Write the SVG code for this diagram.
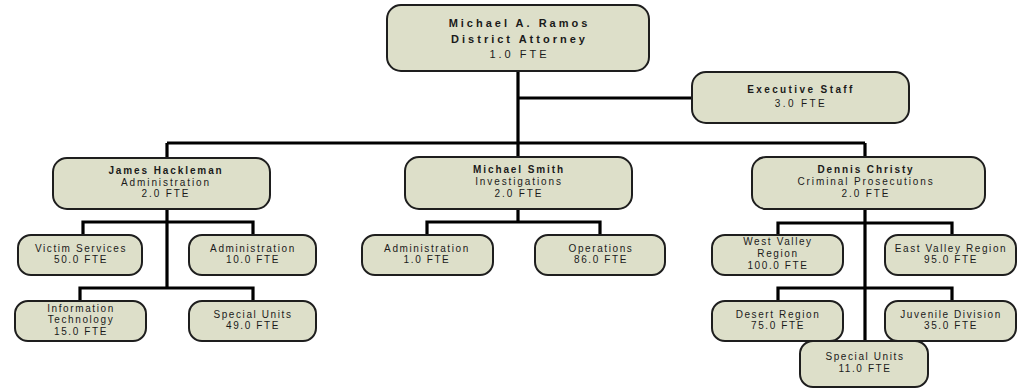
<svg xmlns="http://www.w3.org/2000/svg" width="1021" height="391" viewBox="0 0 1021 391">
<style>
.box{fill:#dddfc9;stroke:#1e1e1e;stroke-width:2}
.c{fill:none;stroke:#000;stroke-width:3.2;stroke-linecap:butt;stroke-linejoin:miter}
text{font-family:"Liberation Sans",Arial,sans-serif;fill:#1a1a1a;text-anchor:middle}
.t1{font-size:11px;letter-spacing:3px}
.t2{font-size:10px;letter-spacing:1.9px}
.te{font-size:10px;letter-spacing:2.4px}
.t3{font-size:10px;letter-spacing:1.6px}
.b{font-weight:bold}
</style>
<rect width="1021" height="391" fill="#fff"/>
<g id="connectors">
<path class="c" d="M518 71V143M518 98H692M167 143H865M167 143V158M518 143V157M865 143V157"/>
<path class="c" d="M167 209V288M83 235V222H253V235M80 301V288H253V301"/>
<path class="c" d="M518 209V222M427 235V222H600V235"/>
<path class="c" d="M865 209V341M778 235V223H952V235M778 301V288H952V301"/>
</g>
<g id="n-ramos"><rect class="box" x="387" y="5" width="262" height="66" rx="14"/>
<text class="t1 b" x="519.5" y="27">Michael A. Ramos</text>
<text class="t1 b" x="519.5" y="43">District Attorney</text>
<text class="t1" x="519.5" y="58">1.0 FTE</text></g>
<g id="n-exec"><rect class="box" x="692" y="72" width="217" height="51" rx="14"/>
<text class="te b" x="801" y="93">Executive Staff</text>
<text class="te" x="801" y="107">3.0 FTE</text></g>
<g id="n-hackleman"><rect class="box" x="53" y="158" width="217" height="51" rx="14"/>
<text class="t2 b" x="166" y="174">James Hackleman</text>
<text class="t2" x="166" y="186">Administration</text>
<text class="t2" x="166" y="197">2.0 FTE</text></g>
<g id="n-smith"><rect class="box" x="405" y="157" width="227" height="52" rx="14"/>
<text class="t2 b" x="519" y="173">Michael Smith</text>
<text class="t2" x="519" y="185">Investigations</text>
<text class="t2" x="519" y="197">2.0 FTE</text></g>
<g id="n-christy"><rect class="box" x="752" y="157" width="233" height="52" rx="14"/>
<text class="t2 b" x="866" y="173">Dennis Christy</text>
<text class="t2" x="866" y="185">Criminal Prosecutions</text>
<text class="t2" x="866" y="197">2.0 FTE</text></g>
<g id="n-victim"><rect class="box" x="18" y="235" width="124" height="40" rx="13"/>
<text class="t3" x="81" y="252">Victim Services</text>
<text class="t3" x="81" y="263">50.0 FTE</text></g>
<g id="n-admin1"><rect class="box" x="189" y="235" width="127" height="40" rx="13"/>
<text class="t3" x="253" y="252">Administration</text>
<text class="t3" x="253" y="263">10.0 FTE</text></g>
<g id="n-it"><rect class="box" x="15" y="301" width="131" height="40" rx="13"/>
<text class="t3" x="81" y="312">Information</text>
<text class="t3" x="81" y="323">Technology</text>
<text class="t3" x="81" y="335">15.0 FTE</text></g>
<g id="n-special1"><rect class="box" x="189" y="301" width="127" height="40" rx="13"/>
<text class="t3" x="253" y="318">Special Units</text>
<text class="t3" x="253" y="329">49.0 FTE</text></g>
<g id="n-admin2"><rect class="box" x="362" y="235" width="131" height="40" rx="13"/>
<text class="t3" x="427" y="252">Administration</text>
<text class="t3" x="427" y="263">1.0 FTE</text></g>
<g id="n-ops"><rect class="box" x="535" y="235" width="130" height="40" rx="13"/>
<text class="t3" x="601" y="252">Operations</text>
<text class="t3" x="601" y="263">86.0 FTE</text></g>
<g id="n-west"><rect class="box" x="712" y="235" width="131" height="40" rx="13"/>
<text class="t3" x="778" y="245">West Valley</text>
<text class="t3" x="778" y="257">Region</text>
<text class="t3" x="778" y="269">100.0 FTE</text></g>
<g id="n-east"><rect class="box" x="885" y="235" width="131" height="40" rx="13"/>
<text class="t3" x="951" y="252">East Valley Region</text>
<text class="t3" x="951" y="263">95.0 FTE</text></g>
<g id="n-desert"><rect class="box" x="712" y="301" width="131" height="40" rx="13"/>
<text class="t3" x="778" y="318">Desert Region</text>
<text class="t3" x="778" y="329">75.0 FTE</text></g>
<g id="n-juvenile"><rect class="box" x="885" y="301" width="131" height="40" rx="13"/>
<text class="t3" x="951" y="318">Juvenile Division</text>
<text class="t3" x="951" y="329">35.0 FTE</text></g>
<g id="n-special2"><rect class="box" x="800" y="341" width="128" height="46" rx="13"/>
<text class="t3" x="865" y="360">Special Units</text>
<text class="t3" x="865" y="372">11.0 FTE</text></g>
</svg>
